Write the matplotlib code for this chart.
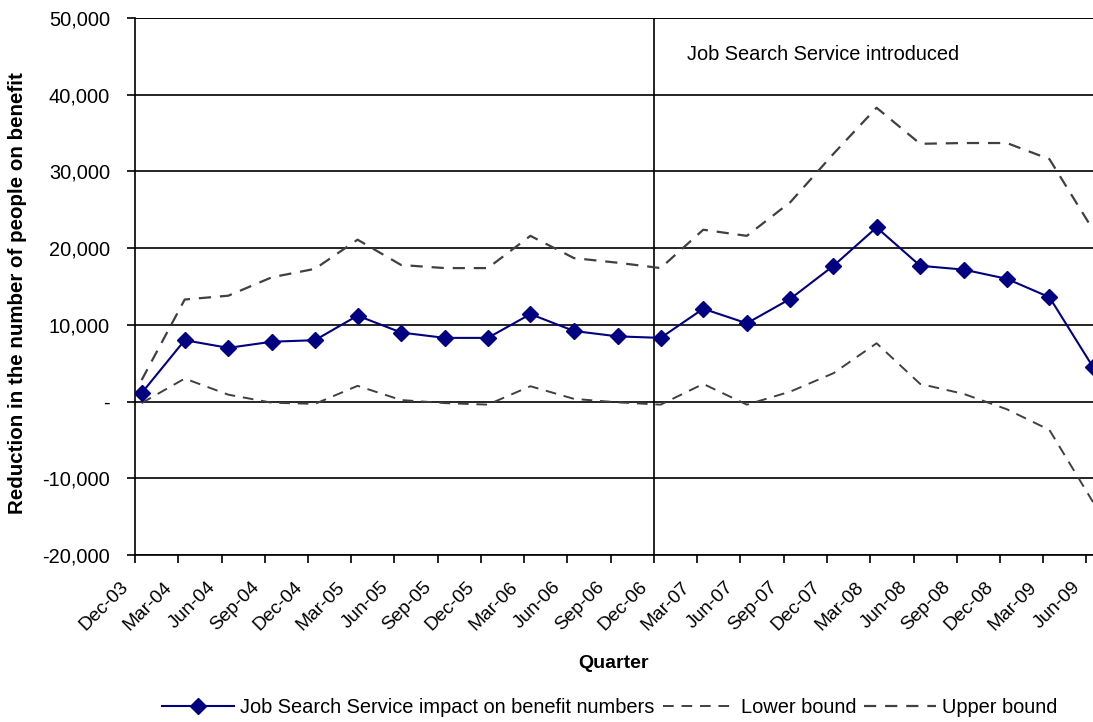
import pandas as pd
import matplotlib
matplotlib.use("Agg")
import matplotlib.pyplot as plt
import matplotlib.ticker as mticker
import matplotlib.transforms as mtransforms

plt.rcParams['font.family'] = ['Liberation Sans', 'DejaVu Sans']

# quarters shown on the x axis
quarters = ['Dec-03', 'Mar-04', 'Jun-04', 'Sep-04', 'Dec-04', 'Mar-05', 'Jun-05',
            'Sep-05', 'Dec-05', 'Mar-06', 'Jun-06', 'Sep-06', 'Dec-06', 'Mar-07',
            'Jun-07', 'Sep-07', 'Dec-07', 'Mar-08', 'Jun-08', 'Sep-08', 'Dec-08',
            'Mar-09', 'Jun-09']

# estimated impact on benefit numbers and the confidence bounds
impact = [1100, 8000, 7000, 7800, 8000, 11200, 9000, 8300, 8300, 11400, 9200,
          8500, 8300, 12100, 10200, 13400, 17700, 22700, 17700, 17200, 16000,
          13600, 4500]
lower = [-200, 3000, 900, -150, -300, 2050, 200, -200, -400, 2000, 350,
         -100, -400, 2300, -400, 1300, 3700, 7600, 2300, 1000, -1000,
         -3700, -13100]
upper = [2800, 13300, 13800, 16200, 17300, 21100, 17800, 17400, 17400, 21600, 18700,
         18100, 17400, 22400, 21600, 26000, 32300, 38300, 33600, 33700, 33700,
         31600, 22400]

intro_quarter = 'Dec-06'

tick_dates = pd.to_datetime(quarters, format='%b-%y')
# figures are recorded mid-month, ticks fall on the first of the month
point_dates = tick_dates + pd.Timedelta(days=14)

fig = plt.figure(figsize=(10.93, 7.22), dpi=100)
ax = fig.add_axes([0.1235, 0.2313, 1 - 0.1235, 0.7438])

ax.plot(point_dates, impact, color='#000080', lw=1.5, marker='D', ms=8,
        label='Job Search Service impact on benefit numbers', zorder=4)
ax.plot(point_dates, lower, color='#404040', lw=1.4, ls=(0, (5.5, 4)),
        label='Lower bound', zorder=3)
ax.plot(point_dates, upper, color='#404040', lw=1.6, ls=(0, (5.5, 4)),
        label='Upper bound', zorder=3)

intro = pd.to_datetime(intro_quarter, format='%b-%y')
ax.axvline(intro, color='black', lw=1.2, zorder=2)
ax.annotate('Job Search Service introduced', xy=(intro, 45200), xytext=(33, 0),
            textcoords='offset pixels', fontsize=14.4, va='center', ha='left')

ax.set_xlim(tick_dates[0], tick_dates[-1] + pd.Timedelta(days=14))
ax.set_ylim(-20000, 50000)
ax.set_yticks(range(-20000, 50001, 10000))
ax.yaxis.set_major_formatter(mticker.FuncFormatter(
    lambda v, p: '-' if v == 0 else f'{v:,.0f}'))
ax.set_xticks(tick_dates)
ax.set_xticklabels(quarters, rotation=45, ha='right', rotation_mode='anchor')

ax.grid(axis='y', color='black', lw=1.2)
ax.set_axisbelow(True)
for side in ['top', 'right']:
    ax.spines[side].set_visible(False)
ax.axhline(50000, color='black', lw=1.2)
ax.spines['left'].set_linewidth(1.2)
ax.spines['bottom'].set_linewidth(1.2)
ax.tick_params(axis='both', direction='out', length=6, width=1.2)
ax.tick_params(axis='y', labelsize=14.4, pad=12)
ax.tick_params(axis='x', labelsize=13.8, pad=8)

# pull the slanted labels left/down so they end just before each tick
# (done after tick_params, which resets the label transforms)
shift = mtransforms.ScaledTranslation(-15 / 100, -4 / 100, fig.dpi_scale_trans)
for lab in ax.get_xticklabels():
    lab.set_transform(lab.get_transform() + shift)

ax.set_ylabel('Reduction in the number of people on benefit', fontsize=14.8,
              fontweight='bold')
ax.yaxis.set_label_coords(-0.113, 0.487)
ax.set_xlabel('Quarter', fontsize=14, fontweight='bold')
ax.xaxis.set_label_coords(0.5, -0.187)

fig.legend(loc='center', bbox_to_anchor=(0.558, 0.02), ncol=3, frameon=False,
           fontsize=14.4, handlelength=3.6, columnspacing=0.4, handletextpad=0.3)

fig.savefig('out.png', dpi=100)
